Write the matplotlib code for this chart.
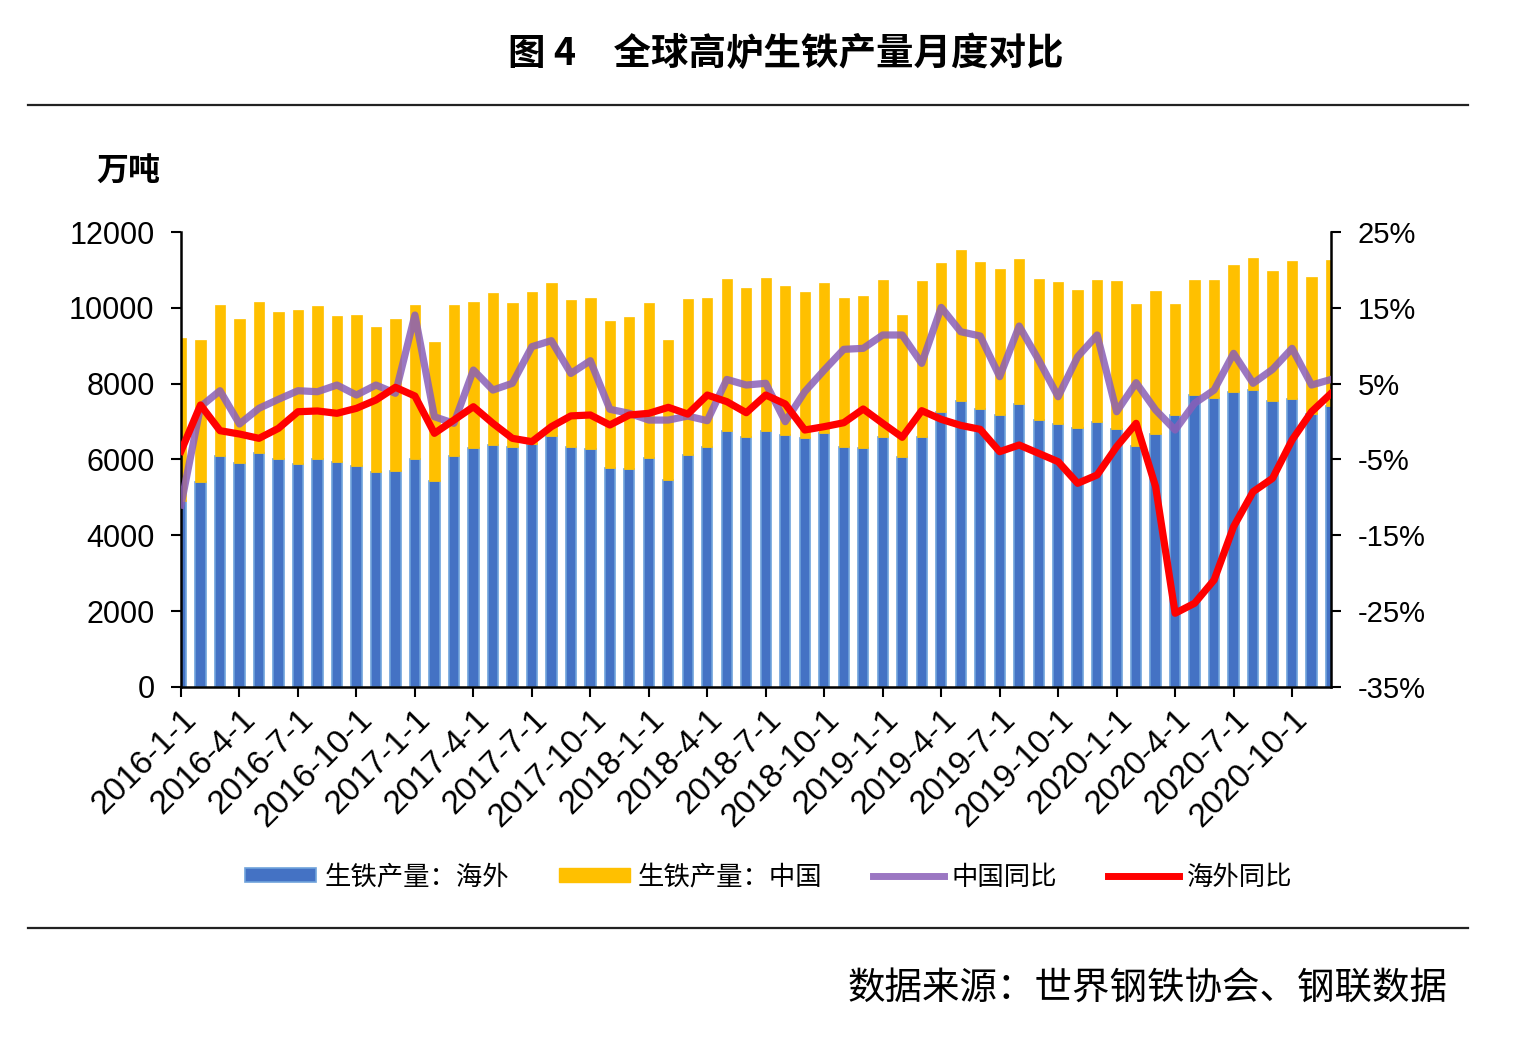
import numpy as np
import pandas as pd
import matplotlib
matplotlib.use('Agg')
import matplotlib.pyplot as plt
from matplotlib.lines import Line2D
from matplotlib.patches import Patch

plt.rcParams['font.family'] = ['Liberation Sans', 'Noto Sans CJK SC', 'DejaVu Sans']
cjk = ['Noto Sans CJK SC', 'DejaVu Sans']

# Monthly data 2016-1 .. 2020-12
months = pd.date_range('2016-01-01', periods=60, freq='MS')

# bottom bar (blue), legend: 生铁产量：海外
haiwai = [4900, 5415, 6092, 5899, 6163, 6022, 5881, 6004, 5925, 5837, 5670, 5697,
          6022, 5433, 6092, 6303, 6391, 6330, 6409, 6628, 6325, 6277, 5767, 5741,
          6048, 5459, 6110, 6321, 6751, 6602, 6760, 6646, 6558, 6698, 6321, 6294,
          6600, 6066, 6602, 7260, 7530, 7332, 7165, 7455, 7051, 6936, 6839, 6998,
          6813, 6365, 6681, 7174, 7710, 7630, 7771, 7824, 7543, 7587, 7200, 7402]

# stacked bar (yellow), legend: 生铁产量：中国
zhongguo = [4296, 3736, 3974, 3798, 3999, 3877, 4071, 4035, 3851, 3966, 3833, 4000,
            4044, 3666, 3974, 3859, 4000, 3805, 4008, 4018, 3875, 3974, 3877, 4017,
            4087, 3684, 4114, 3930, 4018, 3930, 4036, 3930, 3859, 3957, 3930, 4027,
            4143, 3737, 4114, 3931, 3986, 3885, 3859, 3824, 3718, 3737, 3622, 3745,
            3886, 3745, 3754, 2936, 3033, 3095, 3350, 3481, 3428, 3648, 3604, 3859]

# YoY (%), right axis
zg_yoy = [-11.0, 1.97, 4.07, -0.32, 1.75, 2.94, 4.07, 3.94, 4.82, 3.5, 4.82, 3.73,
          14.05, 0.64, -0.23, 6.8, 4.16, 5.05, 9.88, 10.67, 6.35, 8.03, 1.62, 1.09,
          0.2, 0.2, 0.73, 0.12, 5.56, 4.82, 5.05, -0.01, 3.94, 6.8, 9.53, 9.66,
          11.42, 11.42, 7.68, 15.06, 11.85, 11.29, 5.92, 12.6, 8.12, 3.28, 8.56, 11.42,
          1.3, 5.13, 1.53, -1.11, 2.41, 4.16, 9.0, 5.05, 6.89, 9.66, 4.82, 5.56]

hw_yoy = [-3.9, 2.19, -1.2, -1.64, -2.21, -0.89, 1.3, 1.4, 1.09, 1.75, 2.85, 4.52,
          3.37, -1.55, 0.2, 1.96, -0.23, -2.21, -2.65, -0.67, 0.75, 0.87, -0.45, 0.87,
          1.09, 1.88, 0.99, 3.5, 2.63, 1.17, 3.5, 2.32, -1.11, -0.67, -0.15, 1.66,
          -0.23, -2.07, 1.44, 0.3, -0.5, -1.02, -3.97, -3.09, -4.19, -5.29, -8.14, -7.04,
          -3.31, -0.23, -8.59, -25.28, -23.96, -20.89, -13.86, -9.25, -7.48, -2.43, 1.3, 3.72]

x = np.arange(len(months))
tick_pos = x[::3]
tick_labels = [f'{d.year}-{d.month}-1' for d in months[::3]]

fig = plt.figure(figsize=(15.16, 10.48), dpi=100)
ax = fig.add_axes([0.1194, 0.3445, 0.7586, 0.4341])

# Bars
ax.bar(x, haiwai, width=0.53, color='#4472C4', edgecolor='#6FA3DC', linewidth=1.2, zorder=2)
ax.bar(x, zhongguo, width=0.53, bottom=haiwai, color='#FFC000', edgecolor='#FFC000',
       linewidth=0.5, zorder=2)

ax.set_xlim(0, 59)
ax.set_ylim(0, 12000)
ax.set_yticks(range(0, 12001, 2000))
ax.set_xticks(tick_pos)
ax.set_xticklabels(tick_labels, rotation=45, ha='right', va='top',
                   rotation_mode='anchor', fontsize=24)
ax.tick_params(axis='y', labelsize=22, length=7, width=1.5, pad=12)
ax.tick_params(axis='x', length=7, width=1.5, pad=5)
ax.spines['top'].set_visible(False)
ax.spines['right'].set_visible(False)
for s in ['left', 'bottom']:
    ax.spines[s].set_linewidth(1.8)

# Lines on right axis
ax2 = ax.twinx()
ax2.plot(x, zg_yoy, color='#8A5FB8', alpha=0.85, linewidth=5.2,
         solid_joinstyle='round', zorder=3)
ax2.plot(x, hw_yoy, color='#FF0000', linewidth=5.2, solid_joinstyle='round', zorder=4)
ax2.set_ylim(-35, 25)
ax2.set_yticks(range(-35, 26, 10))
ax2.set_yticklabels([f'{v}%' for v in range(-35, 26, 10)])
ax2.tick_params(axis='y', labelsize=21, length=7, width=1.5, pad=12)
ax2.spines['top'].set_visible(False)
ax2.spines['left'].set_visible(False)
ax2.spines['bottom'].set_visible(False)
ax2.spines['right'].set_linewidth(1.8)
ax2.set_xlim(0, 59)

# Title, unit, rules, source
fig.text(0.518, 0.949, '图 4\u3000全球高炉生铁产量月度对比', ha='center', va='center',
         fontsize=27, fontweight='bold', family=cjk)
fig.text(0.085, 0.836, '万吨', ha='center', va='center', fontsize=23,
         fontweight='bold', family=cjk)
fig.add_artist(Line2D([0.0185, 0.9685], [0.8998, 0.8998], color='#222222', linewidth=1.6))
fig.add_artist(Line2D([0.0185, 0.9685], [0.1145, 0.1145], color='#222222', linewidth=1.6))
fig.text(0.955, 0.057, '数据来源：世界钢铁协会、钢联数据', ha='right', va='center',
         fontsize=27, family=cjk)

# Legend
handles = [Patch(facecolor='#4472C4', edgecolor='#6FA3DC', linewidth=1.2),
           Patch(facecolor='#FFC000', edgecolor='#FFC000'),
           Line2D([], [], color='#8A5FB8', alpha=0.85, linewidth=5),
           Line2D([], [], color='#FF0000', linewidth=5)]
labels = ['生铁产量：海外', '生铁产量：中国', '中国同比', '海外同比']
fig.legend(handles, labels, loc='center', bbox_to_anchor=(0.507, 0.163), ncol=4,
           frameon=False, prop={'family': cjk, 'size': 19}, handlelength=2.7,
           handleheight=0.45, handletextpad=0.3, columnspacing=1.9)

fig.savefig('out.png', dpi=100)
